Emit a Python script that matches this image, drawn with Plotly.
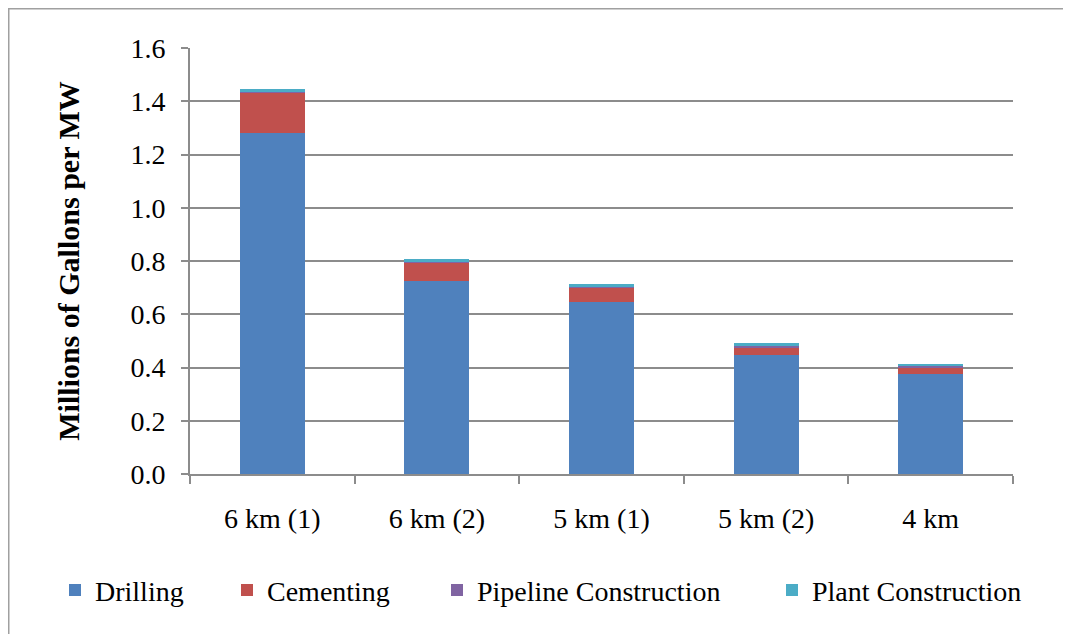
import plotly.graph_objects as go

categories = ["6 km (1)", "6 km (2)", "5 km (1)", "5 km (2)", "4 km"]
drilling = [1.281, 0.725, 0.646, 0.447, 0.374]
cementing = [0.150, 0.069, 0.053, 0.029, 0.027]
pipeline = [0.003, 0.003, 0.003, 0.003, 0.003]
plant = [0.012, 0.011, 0.013, 0.014, 0.009]

series = [
    ("Drilling", drilling, "#4F81BD", "legend"),
    ("Cementing", cementing, "#C0504D", "legend2"),
    ("Pipeline Construction", pipeline, "#8064A2", "legend3"),
    ("Plant Construction", plant, "#4BACC6", "legend4"),
]

fig = go.Figure()
for name, vals, color, lg in series:
    fig.add_trace(go.Bar(x=categories, y=vals, name=name, legend=lg,
                         showlegend=True,
                         marker=dict(color=color, line=dict(width=0))))

font = "Times New Roman, Liberation Serif, serif"
W, H = 1063, 626
ML, MR, MT, MB = 182, 58, 40, 160
pw, ph = W - ML - MR, H - MT - MB


def lg(xpx):
    return dict(orientation="h", xref="container", yref="container",
                x=xpx / W, xanchor="left", y=0.07, yanchor="middle",
                font=dict(family=font, size=28, color="black"),
                bgcolor="rgba(0,0,0,0)")


fig.update_layout(
    barmode="stack",
    bargap=0.605,
    showlegend=True,
    width=W, height=H,
    margin=dict(l=ML, r=MR, t=MT, b=MB),
    paper_bgcolor="white", plot_bgcolor="white",
    font=dict(family=font, size=28, color="black"),
    legend=lg(47), legend2=lg(219), legend3=lg(429), legend4=lg(764),
    shapes=[dict(type="rect", xref="paper", yref="paper",
                 x0=(0.5 - ML) / pw, x1=1.3,
                 y0=-0.6, y1=1 + (MT - 0.5) / ph,
                 line=dict(color="#a0a0a0", width=2), layer="below")],
)
fig.update_yaxes(
    range=[0, 1.6], dtick=0.2, tickformat=".1f",
    showgrid=True, gridcolor="#8c8c8c", gridwidth=2,
    showline=True, linecolor="#8c8c8c", linewidth=2,
    ticks="outside", ticklen=7, tickcolor="#8c8c8c", tickwidth=2,
    ticklabelstandoff=10,
    zeroline=False,
    title=dict(text="<b>Millions of Gallons per MW</b>", standoff=42,
               font=dict(family=font, size=30, color="black")),
    tickfont=dict(family=font, size=28, color="black"),
)
fig.update_xaxes(
    showline=True, linecolor="#8c8c8c", linewidth=2,
    ticks="outside", tickson="boundaries", ticklen=8, tickcolor="#8c8c8c", tickwidth=2,
    ticklabelstandoff=18,
    tickfont=dict(family=font, size=28, color="black"),
)
fig.write_html("out.html")
